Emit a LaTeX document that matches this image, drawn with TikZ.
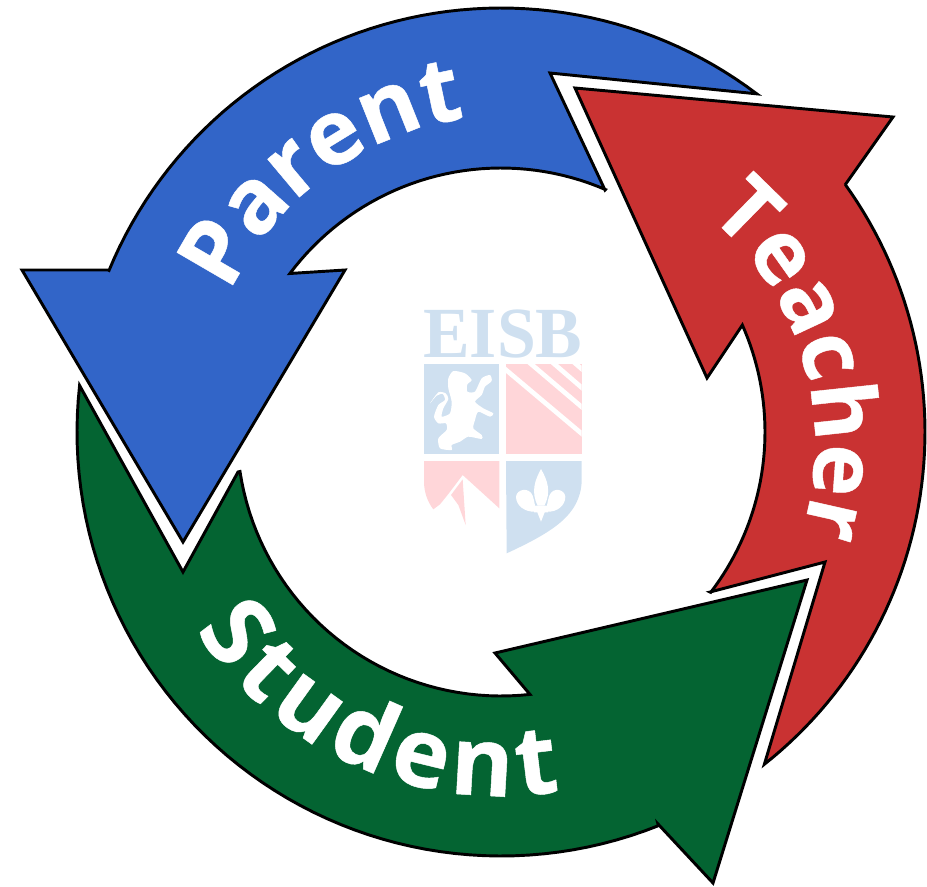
\documentclass[tikz,border=0pt]{standalone}
\usepackage{fontspec}
\setmainfont{Open Sans}[BoldFeatures={FakeBold=0.5}]
\newfontfamily\logofont{Liberation Serif}
\usetikzlibrary{decorations.text}

\definecolor{parentblue}{RGB}{50,101,200}
\definecolor{teacherred}{RGB}{201,50,50}
\definecolor{studentgreen}{RGB}{4,100,50}
\definecolor{logoblue}{RGB}{207,224,240}
\definecolor{logopink}{RGB}{255,214,217}

\tikzset{
  cyclearrow/.style={draw=black,line width=2.2pt,line join=miter,miter limit=10},
  shieldwhite/.style={fill=white,draw=none},
}
\newcommand{\arcword}[1]{|\fontsize{#1}{#1}\selectfont\bfseries\color{white}|}

\begin{document}
\begin{tikzpicture}[x=0.75pt,y=-0.75pt]
  \useasboundingbox (0,0) rectangle (927,886);

  % red arrow
  \filldraw[cyclearrow,fill=teacherred] (575,88) -- (893,117) -- (845,185)
    -- plot[domain=-35.7:51.6,samples=60] ({501+424*cos(\x)},{432+424*sin(\x)})
    -- (825,562) -- (710,592)
    -- plot[domain=37.4:-23.9,samples=40] ({501+264*cos(\x)},{432+264*sin(\x)})
    -- (707,378) -- cycle;

  % blue arrow
  \filldraw[cyclearrow,fill=parentblue] (183,542) -- (22,270) -- (108,270)
    -- plot[domain=202.4:307.1,samples=60] ({501+424*cos(\x)},{432+424*sin(\x)})
    -- (550,73) -- (605,190)
    -- plot[domain=293.3:216.9,samples=40] ({501+264*cos(\x)},{432+264*sin(\x)})
    -- (345,270) -- cycle;

  % green arrow
  \filldraw[cyclearrow,fill=studentgreen] (807,580) -- (713,883) -- (658,824)
    -- plot[domain=68.2:186.3,samples=60] ({501+424*cos(\x)},{432+424*sin(\x)})
    -- (183,572) -- (238,472)
    -- plot[domain=171.4:83.7,samples=40] ({501+264*cos(\x)},{432+264*sin(\x)})
    -- (495,653) -- cycle;

  % words on the arrows
  \path[decorate,decoration={text along path,text align={fit to path},
      text={\arcword{68}Parent}}]
    plot[domain=205.3:260.3,samples=40] ({510+310*cos(\x)},{425+310*sin(\x)});
  \path[decorate,decoration={text along path,text align={fit to path},
      text={\arcword{66}Teacher}}]
    plot[domain=-50:17,samples=40] ({515+300*cos(\x)},{445+300*sin(\x)});
  \path[decorate,decoration={text along path,text align={fit to path},
      text={\arcword{72}Student}}]
    plot[domain=147:80.6,samples=40] ({501+364*cos(\x)},{432+364*sin(\x)});

  % school logo
  \node[text=logoblue,font=\logofont\bfseries\fontsize{54}{54}\selectfont,xscale=0.97] (logotext) at (503,334) {EISB};
  \begin{scope}[shift={(410,295)},scale=1/3]
    \fill[logoblue] (42,207) rectangle (268,478);
    \fill[logopink] (288,207) rectangle (515,478);
    \begin{scope}
      \clip (288,207) rectangle (515,478);
      \draw[white,line width=3.5pt] (280,218) -- (520,420);
      \draw[white,line width=3.5pt] (355,200) -- (520,340);
      \draw[white,line width=3.5pt] (425,200) -- (520,282);
      \draw[white,line width=3.5pt] (490,200) -- (520,226);
    \end{scope}
    % lion
    \fill[shieldwhite] plot[smooth cycle,tension=0.4] coordinates {(130,228) (165,235) (185,255) (172,268) (172,290) (195,290) (215,250) (240,240) (245,258) (225,275) (215,300) (195,320) (220,340) (250,355) (240,365) (205,350) (195,375) (190,400) (215,420) (215,432) (175,425) (150,440) (125,450) (125,465) (90,460) (85,430) (110,405) (108,385) (85,385) (72,365) (85,330) (105,315) (98,297) (80,302) (60,325) (85,292) (107,295) (115,312) (100,340) (95,365) (120,355) (125,320) (115,280) (115,250)};
    % mountain quarter
    \fill[logopink] (42,498) -- (268,498) -- (268,640) -- (158,540) -- (115,597) -- (90,628) -- (70,643) .. controls (52,620) and (42,590) .. (42,560) -- cycle;
    \fill[logopink] (123,600) -- (158,553) -- (167,690) -- (145,630) -- cycle;
    % fleur-de-lis quarter
    \fill[logoblue] (288,498) -- (515,498) -- (515,560) .. controls (510,660) and (430,710) .. (290,775) -- cycle;
    \fill[shieldwhite] (393,522) .. controls (412,555) and (425,590) .. (403,632) -- (383,632) .. controls (362,590) and (375,555) .. (393,522) -- cycle;
    \fill[shieldwhite] (376,650) .. controls (345,652) and (318,632) .. (318,605) .. controls (320,582) and (358,575) .. (368,602) .. controls (374,620) and (376,635) .. (376,650) -- cycle;
    \fill[shieldwhite] (410,650) .. controls (441,652) and (466,632) .. (466,605) .. controls (464,582) and (428,575) .. (418,602) .. controls (412,620) and (410,635) .. (410,650) -- cycle;
    \fill[shieldwhite] (372,632) -- (414,632) -- (414,652) -- (404,652) -- (393,680) -- (382,652) -- (372,652) -- cycle;
  \end{scope}
\end{tikzpicture}
\end{document}
